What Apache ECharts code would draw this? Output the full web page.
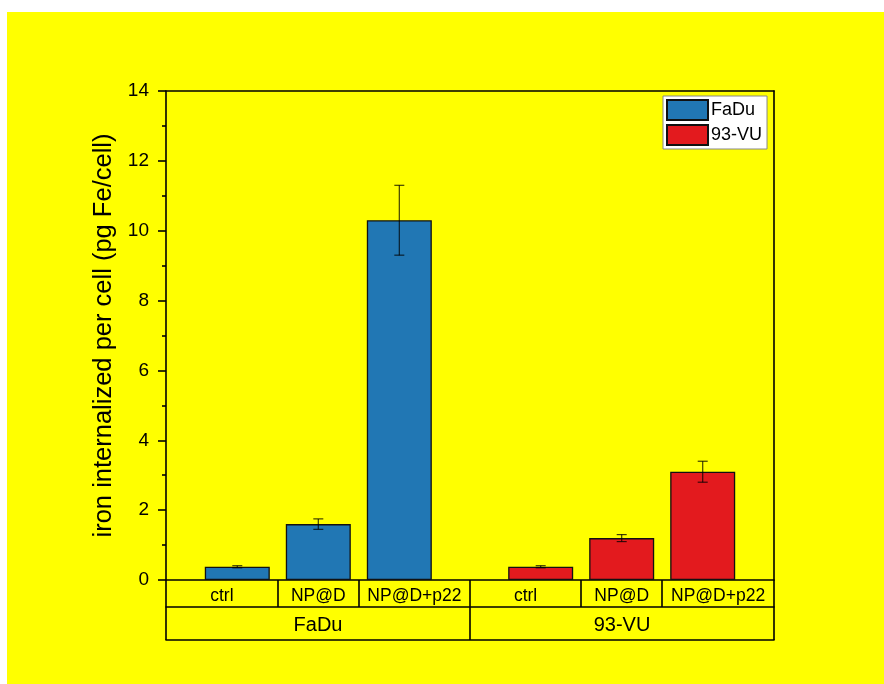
<!DOCTYPE html>
<html>
<head>
<meta charset="utf-8">
<script src="https://cdn.jsdelivr.net/npm/echarts@6/dist/echarts.min.js"></script>
<style>
html,body{margin:0;padding:0;background:#ffffff;width:884px;height:684px;overflow:hidden;}
#c{position:absolute;left:7px;top:12px;width:877px;height:672px;background:#ffff00;}
</style>
</head>
<body>
<div id="c"></div>
<script>
// ---- data ----
const groups = ['FaDu', '93-VU'];
const treatments = ['ctrl', 'NP@D', 'NP@D+p22'];
const fadu = [0.38, 1.6, 10.3];
const faduErr = [0.03, 0.15, 1.0];
const vu = [0.38, 1.2, 3.1];
const vuErr = [0.03, 0.1, 0.3];
const yTicks = [0, 2, 4, 6, 8, 10, 12, 14];

// ---- layout (axis units: one bar slot = 1) ----
const PAD = 0.88, GAP = 1.745;
const XMAX = 2 * PAD + 4 + GAP;
function pos(g, i) { return PAD + i + g * (2 + GAP); }
const seps = [0, (pos(0,0)+pos(0,1))/2, (pos(0,1)+pos(0,2))/2, (pos(0,2)+pos(1,0))/2,
              (pos(1,0)+pos(1,1))/2, (pos(1,1)+pos(1,2))/2, XMAX];
// labels centred in their table cells
const cellCenters = [], labelMap = {};
groups.forEach((g, gi) => treatments.forEach((t, ti) => {
  const k = gi * treatments.length + ti;
  const x = (seps[k] + seps[k + 1]) / 2;
  cellCenters.push(x); labelMap[x.toFixed(4)] = t;
}));
const groupCenters = [(seps[0] + seps[3]) / 2, (seps[3] + seps[6]) / 2];
const groupMap = {};
groupCenters.forEach((x, i) => groupMap[x.toFixed(4)] = groups[i]);

const FONT = 'Liberation Sans, Arial, sans-serif';
const LW = 1.6;
const black = '#000';

function barData(vals, g) { return vals.map((v, i) => [pos(g, i), v]); }
function errData(vals, errs, g) { return vals.map((v, i) => [pos(g, i), v - errs[i], v + errs[i]]); }

function errRender(params, api) {
  const x = api.value(0);
  const lo = api.coord([x, api.value(1)]);
  const hi = api.coord([x, api.value(2)]);
  const hw = 5;
  const st = { stroke: 'rgba(0,0,0,0.75)', lineWidth: 1.2 };
  return {
    type: 'group',
    children: [
      { type: 'line', shape: { x1: lo[0], y1: lo[1], x2: hi[0], y2: hi[1] }, style: st },
      { type: 'line', shape: { x1: lo[0]-hw, y1: lo[1], x2: lo[0]+hw, y2: lo[1] }, style: st },
      { type: 'line', shape: { x1: hi[0]-hw, y1: hi[1], x2: hi[0]+hw, y2: hi[1] }, style: st }
    ]
  };
}

const chart = echarts.init(document.getElementById('c'), null, { renderer: 'canvas' });
const axLine = { show: true, onZero: false, lineStyle: { color: black, width: LW } };
chart.setOption({
  animation: false,
  backgroundColor: '#ffff00',
  textStyle: { fontFamily: FONT },
  grid: { left: 159, top: 79, width: 608, height: 489 },
  legend: {
    data: groups,
    orient: 'vertical',
    left: 656, top: 84,
    itemWidth: 41, itemHeight: 20, itemGap: 3,
    padding: [3, 5, 3, 3],
    backgroundColor: '#ffffff',
    borderColor: '#888888', borderWidth: 1, borderRadius: 0,
    icon: 'rect',
    textStyle: { fontFamily: FONT, fontSize: 18, color: black, padding: [0, 0, 0, -2] }
  },
  xAxis: [
    {
      type: 'value', min: 0, max: XMAX, position: 'bottom', gridIndex: 0,
      axisLine: axLine,
      axisTick: { show: true, inside: false, length: 27, customValues: seps, lineStyle: { color: black, width: LW } },
      axisLabel: { show: true, customValues: cellCenters, margin: 7, fontSize: 17.5, color: black, fontFamily: FONT,
        formatter: v => labelMap[Number(v).toFixed(4)] || '' },
      splitLine: { show: false }
    },
    {
      type: 'value', min: 0, max: XMAX, position: 'bottom', offset: 27, gridIndex: 0,
      axisLine: axLine,
      axisTick: { show: true, inside: false, length: 33, customValues: [seps[0], seps[3], seps[6]], lineStyle: { color: black, width: LW } },
      axisLabel: { show: true, customValues: groupCenters, margin: 8, fontSize: 20, color: black, fontFamily: FONT,
        formatter: v => groupMap[Number(v).toFixed(4)] || '' },
      splitLine: { show: false }
    },
    {
      type: 'value', min: 0, max: XMAX, position: 'bottom', offset: 60, gridIndex: 0,
      axisLine: axLine, axisTick: { show: false }, axisLabel: { show: false }, splitLine: { show: false }
    },
    {
      type: 'value', min: 0, max: XMAX, position: 'top', gridIndex: 0,
      axisLine: axLine, axisTick: { show: false }, axisLabel: { show: false }, splitLine: { show: false }
    }
  ],
  yAxis: [
    {
      type: 'value', min: yTicks[0], max: yTicks[yTicks.length-1], interval: 2, position: 'left',
      name: 'iron internalized per cell (pg Fe/cell)',
      nameLocation: 'middle', nameGap: 44,
      nameTextStyle: { fontSize: 25.5, color: black, fontFamily: FONT },
      axisLine: axLine,
      axisTick: { show: true, inside: false, length: 8, lineStyle: { color: black, width: LW } },
      minorTick: { show: true, splitNumber: 2, length: 4, lineStyle: { color: black, width: LW } },
      axisLabel: { fontSize: 19, color: black, margin: 17, fontFamily: FONT },
      splitLine: { show: false }
    },
    {
      type: 'value', min: 0, max: 14, position: 'right',
      axisLine: axLine, axisTick: { show: false }, axisLabel: { show: false }, splitLine: { show: false }
    }
  ],
  series: [
    {
      name: groups[0], type: 'bar', xAxisIndex: 0, yAxisIndex: 0,
      barWidth: 65, barGap: '-100%',
      itemStyle: { color: '#2177b4', borderColor: '#111', borderWidth: 1.3 },
      data: barData(fadu, 0)
    },
    {
      name: groups[1], type: 'bar', xAxisIndex: 0, yAxisIndex: 0,
      barWidth: 65, barGap: '-100%',
      itemStyle: { color: '#e31a1e', borderColor: '#111', borderWidth: 1.3 },
      data: barData(vu, 1)
    },
    {
      name: 'FaDu err', type: 'custom', xAxisIndex: 0, yAxisIndex: 0, z: 5,
      renderItem: errRender, data: errData(fadu, faduErr, 0)
    },
    {
      name: '93-VU err', type: 'custom', xAxisIndex: 0, yAxisIndex: 0, z: 5,
      renderItem: errRender, data: errData(vu, vuErr, 1)
    }
  ]
});
</script>
</body>
</html>
